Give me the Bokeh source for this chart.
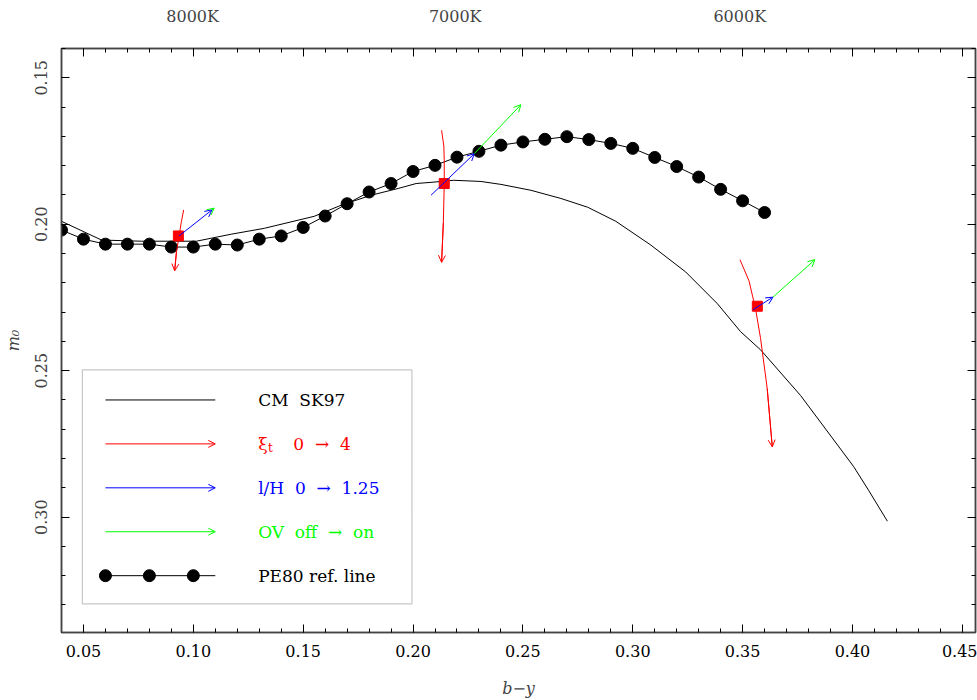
from bokeh.plotting import figure
from bokeh.models import (Range1d, LinearAxis, SingleIntervalTicker, FixedTicker,
                          NumeralTickFormatter, Arrow, OpenHead, Label, BoxAnnotation,
                          CustomJSTickFormatter)
from bokeh.embed import file_html
from bokeh.resources import INLINE

# ---------------- data ----------------
pe80_by = [0.04, 0.05, 0.06, 0.07, 0.08, 0.09, 0.10, 0.11, 0.12, 0.13, 0.14, 0.15,
           0.16, 0.17, 0.18, 0.19, 0.20, 0.21, 0.22, 0.23, 0.24, 0.25, 0.26, 0.27,
           0.28, 0.29, 0.30, 0.31, 0.32, 0.33, 0.34, 0.35, 0.36]
pe80_m0 = [0.2020, 0.2051, 0.2068, 0.2068, 0.2068, 0.2078, 0.2078, 0.2068, 0.2071,
           0.2051, 0.2040, 0.2011, 0.1972, 0.1930, 0.1890, 0.1861, 0.1820, 0.1799,
           0.1771, 0.1751, 0.1730, 0.1719, 0.1710, 0.1701, 0.1711, 0.1724, 0.1741,
           0.1772, 0.1803, 0.1839, 0.1881, 0.1920, 0.1960]

cm_by = [0.0400, 0.0582, 0.0764, 0.1014, 0.1173, 0.1323, 0.1550, 0.1673, 0.1809,
         0.1932, 0.2014, 0.2082, 0.2186, 0.2309, 0.2400, 0.2536, 0.2673, 0.2795,
         0.2923, 0.3082, 0.3241, 0.3386, 0.3491, 0.3582, 0.3764, 0.4005, 0.4073,
         0.4159]
cm_m0 = [0.1990, 0.2054, 0.2058, 0.2058, 0.2034, 0.2014, 0.1973, 0.1935, 0.1901,
         0.1878, 0.1861, 0.1857, 0.1850, 0.1854, 0.1864, 0.1884, 0.1912, 0.1942,
         0.1990, 0.2071, 0.2163, 0.2272, 0.2367, 0.2429, 0.2585, 0.2827, 0.2908,
         0.3014]

ref_by = [0.0932, 0.2142, 0.3567]
ref_m0 = [0.2040, 0.1861, 0.2280]

# xi_t 0 -> 4 tracks (red)
xi_by = [[0.0956, 0.0945, 0.0935, 0.0923, 0.0915],
         [0.2130, 0.2140, 0.2142, 0.2142, 0.2138, 0.2130],
         [0.3488, 0.3529, 0.3559, 0.3582, 0.3612, 0.3635]]
xi_m0 = [[0.1951, 0.1994, 0.2040, 0.2096, 0.2159],
         [0.1679, 0.1733, 0.1779, 0.1861, 0.1994, 0.2130],
         [0.2121, 0.2193, 0.2289, 0.2391, 0.2561, 0.2760]]

# l/H 0 -> 1.25 (blue): start / end
lh_by0 = [0.0935, 0.2082, 0.3547]
lh_m00 = [0.2040, 0.1901, 0.2292]
lh_by1 = [0.1085, 0.2279, 0.3638]
lh_m01 = [0.1951, 0.1759, 0.2249]

# OV off -> on (green): start / end
ov_by0 = [0.1085, 0.2279, 0.3638]
ov_m00 = [0.1951, 0.1759, 0.2249]
ov_by1 = [0.1095, 0.2491, 0.3829]
ov_m01 = [0.1945, 0.1592, 0.2121]

temp_labels = ["8000K", "7000K", "6000K"]
temp_by = [0.0997, 0.2192, 0.3487]

NB = "\u00a0"
legend_texts = ["CM" + NB + " SK97",
                "0" + NB + " \u2192" + NB + " 4",
                "l/H" + NB + " 0" + NB + " \u2192" + NB + " 1.25",
                "OV" + NB + " off" + NB + " \u2192" + NB + " on",
                "PE80 ref. line"]

# ---------------- style ----------------
FONT = "DejaVu Serif"
FS = "16px"
LFS = "17px"
RED, BLUE, GREEN, BLACK = "#ff0000", "#0000ff", "#00ff00", "#000000"
FRAME = "#444444"

p = figure(width=977, height=700, output_backend="svg", toolbar_location=None,
           x_range=Range1d(0.04, 0.456), y_range=Range1d(0.3394, 0.14),
           x_axis_location=None, y_axis_location=None,
           min_border_left=60, min_border_right=2, min_border_top=48, min_border_bottom=66)
p.grid.grid_line_color = None
p.outline_line_color = FRAME
p.outline_line_width = 1.5
p.background_fill_color = "white"
p.border_fill_color = "white"


def tick_axis(labels=True):
    ax = LinearAxis(ticker=SingleIntervalTicker(interval=0.05, num_minor_ticks=5))
    ax.major_tick_in = 8
    ax.major_tick_out = 0
    ax.minor_tick_in = 4
    ax.minor_tick_out = 0
    ax.axis_line_color = FRAME
    ax.axis_line_width = 1.5
    ax.major_tick_line_color = BLACK
    ax.minor_tick_line_color = BLACK
    ax.major_label_text_font = FONT
    ax.major_label_text_color = BLACK
    ax.axis_label_text_font = FONT
    ax.axis_label_text_font_style = "italic"
    ax.axis_label_text_font_size = FS
    if labels:
        ax.formatter = NumeralTickFormatter(format="0.00")
        ax.major_label_text_font_size = FS
    else:
        ax.formatter = CustomJSTickFormatter(code="return ''")
        ax.major_label_text_font_size = "0px"
        ax.major_label_standoff = 0
    return ax


bottom = tick_axis(True)
bottom.axis_label = "b\u2212y"
bottom.major_label_standoff = 12
bottom.axis_label_standoff = 19
p.add_layout(bottom, "below")

left = LinearAxis(ticker=SingleIntervalTicker(interval=0.05, num_minor_ticks=5),
                  formatter=NumeralTickFormatter(format="0.00"))
for k, v in dict(major_tick_in=8, major_tick_out=0, minor_tick_in=4, minor_tick_out=0,
                 axis_line_color=FRAME, axis_line_width=1.5,
                 major_label_text_font=FONT, major_label_text_font_size=FS,
                 major_label_orientation="vertical", major_label_standoff=14,
                 axis_label="m\u2080", axis_label_text_font=FONT,
                 axis_label_text_font_style="italic", axis_label_text_font_size=FS,
                 axis_label_standoff=10).items():
    setattr(left, k, v)
p.add_layout(left, "left")

p.add_layout(tick_axis(False), "right")
p.add_layout(tick_axis(False), "above")

temp_axis = LinearAxis(ticker=FixedTicker(ticks=temp_by, minor_ticks=[]),
                       major_label_overrides={b: t for b, t in zip(temp_by, temp_labels)})
temp_axis.axis_line_color = None
temp_axis.major_tick_line_color = None
temp_axis.major_tick_in = 0
temp_axis.major_tick_out = 0
temp_axis.minor_tick_line_color = None
temp_axis.major_label_text_font = FONT
temp_axis.major_label_text_font_size = FS
temp_axis.major_label_standoff = 23
p.add_layout(temp_axis, "above")

# ---------------- curves ----------------
p.line(cm_by, cm_m0, line_color=BLACK, line_width=1)
p.line(pe80_by, pe80_m0, line_color=BLACK, line_width=1)
p.scatter(pe80_by, pe80_m0, size=12, marker="circle", fill_color=BLACK, line_color=BLACK)

p.scatter(ref_by, ref_m0, size=10, marker="square", fill_color=RED, line_color=RED)


def head(c):
    return OpenHead(size=7, line_color=c, line_width=1)


for bx, my in zip(xi_by, xi_m0):
    p.line(bx, my, line_color=RED, line_width=1)
    p.add_layout(Arrow(end=head(RED), x_start=bx[-2], y_start=my[-2],
                       x_end=bx[-1], y_end=my[-1], line_color=RED, line_width=1))

for x0, y0, x1, y1 in zip(lh_by0, lh_m00, lh_by1, lh_m01):
    p.add_layout(Arrow(end=head(BLUE), x_start=x0, y_start=y0, x_end=x1, y_end=y1,
                       line_color=BLUE, line_width=1))

for x0, y0, x1, y1 in zip(ov_by0, ov_m00, ov_by1, ov_m01):
    p.add_layout(Arrow(end=head(GREEN), x_start=x0, y_start=y0, x_end=x1, y_end=y1,
                       line_color=GREEN, line_width=1))

# ---------------- legend ----------------
box = BoxAnnotation(left=0.0495, right=0.1995, top=0.2497, bottom=0.3296,
                    fill_color="white", fill_alpha=1.0, line_color=FRAME, line_width=1.2,
                    level="underlay")
p.add_layout(box)

rows = [0.26, 0.275, 0.29, 0.305, 0.32]
lx0, lx1, tx = 0.06, 0.11, 0.1295
p.line([lx0, lx1], [rows[0], rows[0]], line_color=BLACK, line_width=1)
for r, c in zip(rows[1:4], [RED, BLUE, GREEN]):
    p.add_layout(Arrow(end=head(c), x_start=lx0, y_start=r, x_end=lx1, y_end=r,
                       line_color=c, line_width=1))
p.line([lx0, lx1], [rows[4], rows[4]], line_color=BLACK, line_width=1)
p.scatter([0.06, 0.08, 0.10], [rows[4]] * 3, size=12, marker="circle",
          fill_color=BLACK, line_color=BLACK)

text_colors = [BLACK, RED, BLUE, GREEN, BLACK]
text_x = [tx, 0.1455, tx, tx, tx]
for t, c, x, r in zip(legend_texts, text_colors, text_x, rows):
    p.add_layout(Label(x=x, y=r, text=t, text_color=c, text_font=FONT,
                       text_font_size=LFS, text_baseline="middle"))
p.add_layout(Label(x=tx, y=rows[1], text="\u03be", text_color=RED, text_font=FONT,
                   text_font_size=LFS, text_baseline="middle"))
p.add_layout(Label(x=0.1340, y=rows[1] + 0.0013, text="t", text_color=RED, text_font=FONT,
                   text_font_size="12px", text_baseline="middle"))

open("out.html", "w").write(file_html(p, INLINE))
